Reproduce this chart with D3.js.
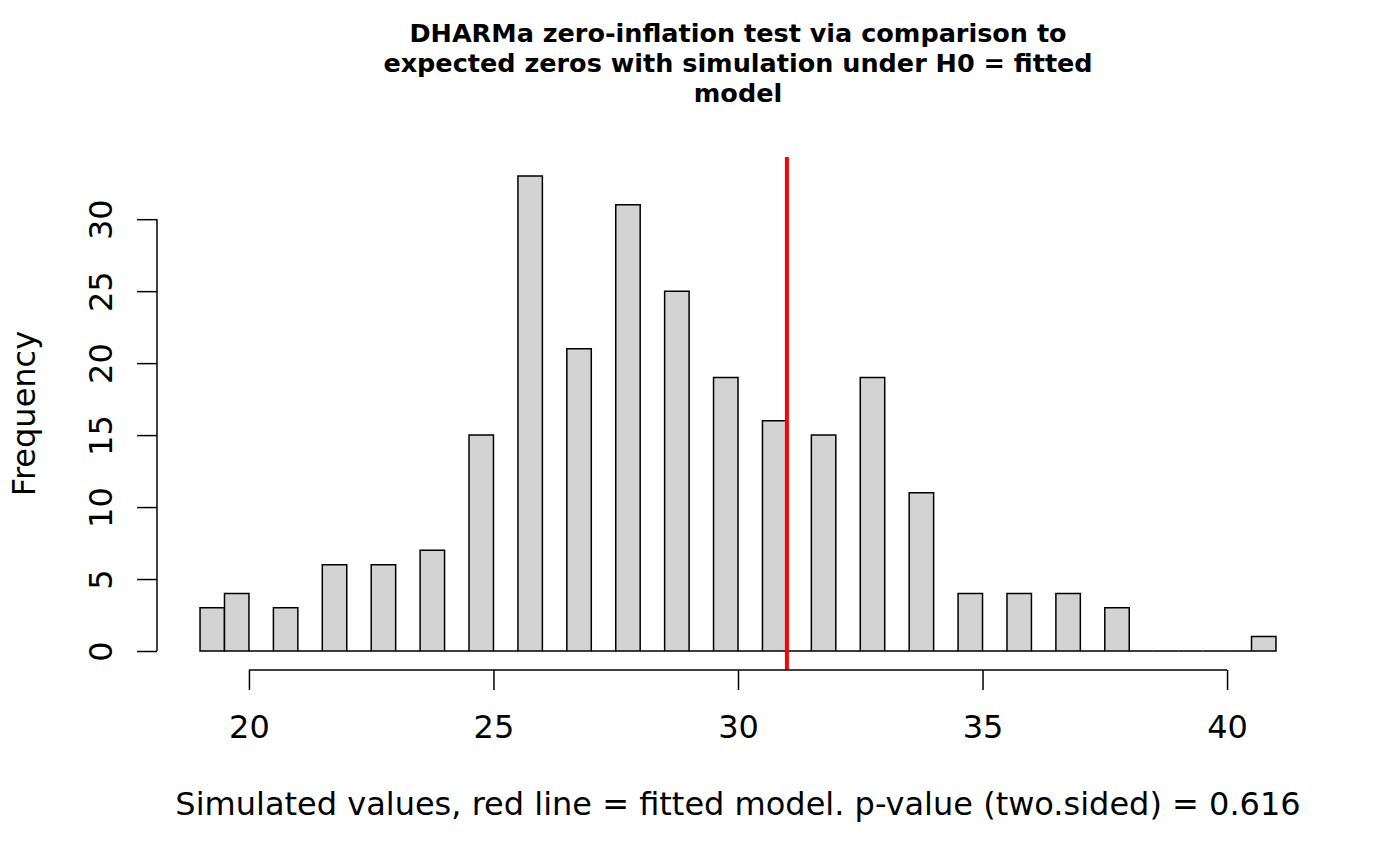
<!DOCTYPE html>
<html>
<head>
<meta charset="utf-8">
<script src="https://cdn.jsdelivr.net/npm/d3@7"></script>
<style>
  body { margin: 0; background: #fff; }
  svg { display: block; font-family: "DejaVu Sans", sans-serif; }
</style>
</head>
<body>
<div id="chart"></div>
<script>
// Simulated number of zeros (integer values) and how often each came up
const simValues = [19, 20, 21, 22, 23, 24, 25, 26, 27, 28, 29, 30, 31, 32, 33, 34, 35, 36, 37, 38, 39, 40, 41];
const simCounts = [3, 4, 3, 6, 6, 7, 15, 33, 21, 31, 25, 19, 16, 15, 19, 11, 4, 4, 4, 3, 0, 0, 1];
const observed = 31;
const xTicks = [20, 25, 30, 35, 40];
const yTicks = [0, 5, 10, 15, 20, 25, 30];
const titleLines = [
  "DHARMa zero-inflation test via comparison to",
  "expected zeros with simulation under H0 = fitted",
  "model"
];
const xLabel = "Simulated values, red line = fitted model. p-value (two.sided) = 0.616";
const yLabel = "Frequency";

const width = 1400, height = 866;
const plot = { left: 157, right: 1319, top: 157, bottom: 670 };
const labelSize = 32;

// R style hist: breaks every 0.5, right-closed bins, lowest included
const breaks = d3.range(19, 41.01, 0.5);
const bins = [];
for (let i = 0; i < breaks.length - 1; i++) {
  const lo = breaks[i], hi = breaks[i + 1];
  let n = 0;
  simValues.forEach((v, j) => {
    if ((v > lo && v <= hi) || (i === 0 && v === lo)) n += simCounts[j];
  });
  bins.push({ x0: lo, x1: hi, count: n });
}

// usr extends the data range by 4% on each side, as R does
const xr = [breaks[0], breaks[breaks.length - 1]];
const xPad = (xr[1] - xr[0]) * 0.04;
const yMax = d3.max(bins, d => d.count);
const yPad = yMax * 0.04;

const x = d3.scaleLinear().domain([xr[0] - xPad, xr[1] + xPad]).range([plot.left, plot.right]);
const y = d3.scaleLinear().domain([-yPad, yMax + yPad]).range([plot.bottom, plot.top]);

const svg = d3.select("#chart").append("svg")
  .attr("width", width)
  .attr("height", height);

// title
svg.append("text")
  .attr("text-anchor", "middle")
  .attr("font-weight", "bold")
  .attr("font-size", 25.5)
  .selectAll("tspan")
  .data(titleLines)
  .join("tspan")
  .attr("x", (plot.left + plot.right) / 2)
  .attr("y", (d, i) => 42 + i * 30)
  .text(d => d);

// bars (paths so that empty bins still show their outline on the baseline)
svg.append("g")
  .selectAll("path")
  .data(bins)
  .join("path")
  .attr("d", d => {
    const x0 = x(d.x0), x1 = x(d.x1), y0 = y(0), y1 = y(d.count);
    return `M${x0},${y0}V${y1}H${x1}V${y0}Z`;
  })
  .attr("fill", "#d3d3d3")
  .attr("stroke", "#000")
  .attr("stroke-width", 1.5);

// observed value
svg.append("line")
  .attr("x1", x(observed)).attr("x2", x(observed))
  .attr("y1", plot.top).attr("y2", plot.bottom)
  .attr("stroke", "#ff0000")
  .attr("stroke-width", 4);

// x axis
const xAxis = svg.append("g")
  .attr("transform", `translate(0,${plot.bottom})`)
  .call(d3.axisBottom(x).tickValues(xTicks).tickSize(20).tickSizeOuter(0));
xAxis.select(".domain").attr("d", `M${x(xTicks[0])},0H${x(xTicks[xTicks.length - 1])}`);
xAxis.selectAll("line, path").attr("stroke", "#000").attr("stroke-width", 1.5);
xAxis.selectAll("text")
  .attr("font-size", labelSize)
  .attr("font-family", "DejaVu Sans")
  .attr("fill", "#000")
  .attr("y", 68)
  .attr("dy", null);

// y axis
const yAxis = svg.append("g")
  .attr("transform", `translate(${plot.left},0)`)
  .call(d3.axisLeft(y).tickValues(yTicks).tickSize(20).tickSizeOuter(0));
yAxis.select(".domain").attr("d", `M0,${y(yTicks[0])}V${y(yTicks[yTicks.length - 1])}`);
yAxis.selectAll("line, path").attr("stroke", "#000").attr("stroke-width", 1.5);
yAxis.selectAll("text")
  .attr("font-size", labelSize)
  .attr("font-family", "DejaVu Sans")
  .attr("fill", "#000")
  .attr("text-anchor", "middle")
  .attr("dy", null)
  .attr("x", null)
  .attr("transform", "translate(-45,0) rotate(-90)");

// axis titles
svg.append("text")
  .attr("x", (plot.left + plot.right) / 2)
  .attr("y", 815)
  .attr("text-anchor", "middle")
  .attr("font-size", labelSize)
  .text(xLabel);

svg.append("text")
  .attr("transform", `translate(35,${(plot.top + plot.bottom) / 2}) rotate(-90)`)
  .attr("text-anchor", "middle")
  .attr("font-size", labelSize)
  .text(yLabel);
</script>
</body>
</html>
